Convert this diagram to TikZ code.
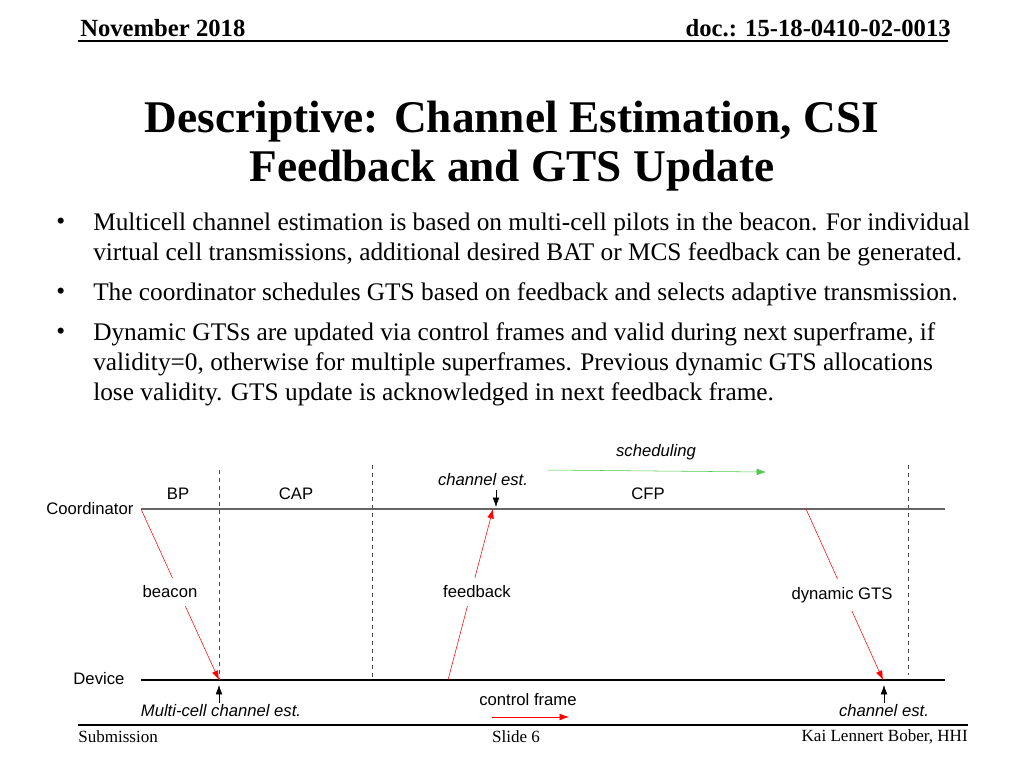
\documentclass[tikz,border=0pt]{standalone}
\usepackage{fontspec}
\setmainfont{Liberation Serif}
\newfontfamily\lsans{Liberation Sans}
\usetikzlibrary{arrows.meta}
\begin{document}
\begin{tikzpicture}[x=0.75pt,y=-0.75pt,
  lab/.style={font=\lsans\fontsize{12.5}{14}\selectfont, inner sep=1pt},
  ilab/.style={font=\lsans\itshape\fontsize{12.5}{14}\selectfont, inner sep=1pt},
  gap/.style={lab, fill=white, inner ysep=6pt, inner xsep=1pt},
  bul/.style={anchor=west, font=\fontsize{19}{22.5}\selectfont, inner sep=0pt},
  tip/.style={-{Latex[length=7pt,width=5pt]}},
  msg/.style={red, thin, tip},
  dl/.style={dashed, thin, black!70}]
\useasboundingbox (0,0) rectangle (1024,768);
% header
\node[anchor=west, font=\bfseries\fontsize{18.5}{20}\selectfont, inner sep=0] (hd1) at (80,28) {November 2018};
\node[anchor=east, font=\bfseries\fontsize{18.5}{20}\selectfont, inner sep=0] (hd2) at (951,28) {doc.: 15-18-0410-02-0013};
\draw[thick] (78,41) -- (948,41);
\node[font=\bfseries\fontsize{34}{37}\selectfont, align=center] (title) at (512,146) {Descriptive: Channel Estimation, CSI\\Feedback and GTS Update};
% bullets
\foreach \y in {224,294,334} \node[bul] at (56,\y) {\textbullet};
\node[bul] (b1) at (93,224) {Multicell channel estimation is based on multi-cell pilots in the beacon. For individual};
\node[bul] (b1b) at (93,254) {virtual cell transmissions, additional desired BAT or MCS feedback can be generated.};
\node[bul] (b2) at (93,294) {The coordinator schedules GTS based on feedback and selects adaptive transmission.};
\node[bul] (b3) at (93,334) {Dynamic GTSs are updated via control frames and valid during next superframe, if};
\node[bul] (b3b) at (93,364) {validity=0, otherwise for multiple superframes. Previous dynamic GTS allocations};
\node[bul] (b3c) at (93,394) {lose validity. GTS update is acknowledged in next feedback frame.};
% diagram
\coordinate (c0) at (141,509); \coordinate (c1) at (945,509);
\coordinate (d0) at (141,680); \coordinate (d1) at (945,680);
\draw[black!60, line width=1.2pt] (c0) -- (c1);
\draw[black, line width=1pt] (d0) -- (d1);
\draw[dl] (219,470) -- (219,680);
\draw[dl] (372,465) -- (372,677);
\draw[dl] (908,465) -- (908,675);
\node[lab, anchor=east] (coord) at (135,509) {Coordinator};
\node[lab, anchor=east] (dev) at (126,679) {Device};
\node[lab] (bp) at (178,494) {BP};
\node[lab] (cap) at (296,494) {CAP};
\node[lab] (cfp) at (648,494) {CFP};
% messages
\coordinate (bs) at (141,509); \coordinate (be) at (219,680);
\draw[msg] (bs) -- (be);
\node[gap] (beacon) at (170,592) {beacon};
\coordinate (fs) at (448,680); \coordinate (fe) at (493,509);
\draw[msg] (fs) -- (fe);
\node[gap] (fb) at (477,592) {feedback};
\coordinate (gs) at (806,509); \coordinate (ge) at (883,680);
\draw[msg] (gs) -- (ge);
\node[gap] (gts) at (842,595) {dynamic GTS};
% channel est top
\node[ilab] (ce1) at (483,480) {channel est.};
\coordinate (ce1a) at (496,490); \coordinate (ce1b) at (496,507);
\draw[tip, thin] (ce1a) -- (ce1b);
\node[ilab] (sch) at (656,452) {scheduling};
\coordinate (s0) at (548,470); \coordinate (s1) at (766,472);
\draw[tip, thin, green!70!black!70] (s0) -- (s1);
% bottom
\coordinate (m0) at (219,703); \coordinate (m1) at (219,685);
\draw[tip, thin] (m0) -- (m1);
\node[ilab] (mce) at (221,711) {Multi-cell channel est.};
\node[lab] (cf) at (528,700) {control frame};
\coordinate (r0) at (492,717); \coordinate (r1) at (569,717);
\draw[tip, thin, red] (r0) -- (r1);
\coordinate (n0) at (884,703); \coordinate (n1) at (884,685);
\draw[tip, thin] (n0) -- (n1);
\node[ilab] (ce2) at (884,711) {channel est.};
% footer
\draw[thick] (78,725) -- (968,725);
\node[anchor=west, font=\fontsize{12.8}{14}\selectfont, inner sep=0] (sub) at (78,737) {Submission};
\node[font=\fontsize{12.8}{14}\selectfont, inner sep=0] (sl) at (516,737) {Slide 6};
\node[anchor=east, font=\fontsize{12.8}{14}\selectfont, inner sep=0] (kai) at (968,737) {Kai Lennert Bober, HHI};
\end{tikzpicture}
\end{document}
